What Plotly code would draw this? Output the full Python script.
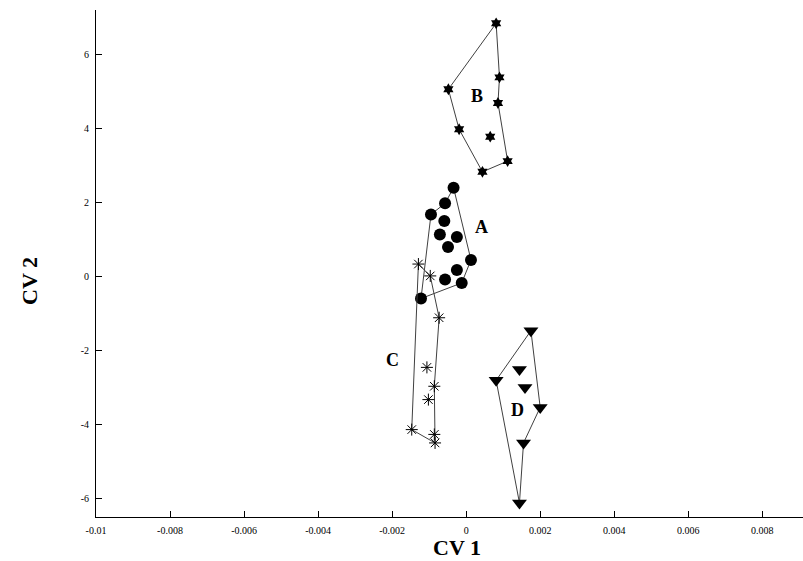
import plotly.graph_objects as go

# ---- data ----
group_names = ["A", "B", "C", "D"]

A_x = [-0.00034, -0.00057, -0.00095, -0.00122, -0.00012, 0.00013, -0.00059, -0.00071, -0.00025, -0.00049, -0.00025, -0.00057]
A_y = [2.40, 1.98, 1.68, -0.59, -0.17, 0.45, 1.50, 1.14, 1.07, 0.80, 0.18, -0.08]
A_hull = [0, 1, 2, 3, 4, 5, 0]

B_x = [0.00081, -0.00048, -0.00019, 0.00044, 0.00112, 0.00086, 0.00090, 0.00065]
B_y = [6.84, 5.06, 3.98, 2.83, 3.12, 4.69, 5.38, 3.78]
B_hull = [0, 1, 2, 3, 4, 5, 6, 0]

C_x = [-0.00129, -0.00097, -0.00073, -0.00084, -0.00147, -0.00106, -0.00086, -0.00102, -0.00086]
C_y = [0.34, 0.02, -1.11, -4.49, -4.13, -2.45, -2.96, -3.32, -4.26]
C_hull = [0, 1, 2, 6, 3, 4, 0]

D_x = [0.00175, 0.00200, 0.00155, 0.00144, 0.00081, 0.00144, 0.00159]
D_y = [-1.46, -3.53, -4.49, -6.11, -2.80, -2.51, -2.99]
D_hull = [0, 1, 2, 3, 4, 0]

label_x = [0.00042, 0.00029, -0.00198, 0.00140]
label_y = [1.33, 4.87, -2.24, -3.61]

x_ticks = [-0.01, -0.008, -0.006, -0.004, -0.002, 0, 0.002, 0.004, 0.006, 0.008]
x_tick_labels = ["-0.01", "-0.008", "-0.006", "-0.004", "-0.002", "0", "0.002", "0.004", "0.006", "0.008"]
y_ticks = [-6, -4, -2, 0, 2, 4, 6]
y_tick_labels = ["-6", "-4", "-2", "0", "2", "4", "6"]

# ---- styles ----
SERIF = "Liberation Serif, Times New Roman, serif"
groups = [
    (A_x, A_y, A_hull, dict(symbol="circle", size=12, color="black")),
    (B_x, B_y, B_hull, dict(symbol="hexagram", size=9, color="black")),
    (C_x, C_y, C_hull, dict(symbol="asterisk-open", size=10, color="black",
                            line=dict(color="black", width=1))),
    (D_x, D_y, D_hull, dict(symbol="triangle-down", size=13, color="black")),
]

fig = go.Figure()
for gx, gy, hull, mk in groups:
    fig.add_trace(go.Scatter(
        x=[gx[i] for i in hull], y=[gy[i] for i in hull],
        mode="lines", line=dict(color="#404040", width=1),
        hoverinfo="skip"))
    fig.add_trace(go.Scatter(x=gx, y=gy, mode="markers", marker=mk))

for name, lx, ly in zip(group_names, label_x, label_y):
    fig.add_annotation(x=lx, y=ly, text="<b>%s</b>" % name, showarrow=False,
                       font=dict(family=SERIF, size=18, color="black"))

fig.add_annotation(xref="paper", yref="paper", x=0.5106, y=-0.061,
                   text="<b>CV 1</b>", showarrow=False, yanchor="middle",
                   font=dict(family=SERIF, size=22, color="black"))
fig.add_annotation(xref="paper", yref="paper", x=-0.0934, y=0.4655,
                   text="<b>CV 2</b>", showarrow=False, textangle=-90,
                   xanchor="center", yanchor="middle",
                   font=dict(family=SERIF, size=22, color="black"))

axis_common = dict(showline=True, linecolor="black", linewidth=1,
                   ticks="inside", ticklen=6, tickcolor="black", tickwidth=1,
                   showgrid=False, zeroline=False,
                   tickfont=dict(family=SERIF, size=10, color="black"))

fig.update_layout(
    width=803, height=561,
    margin=dict(l=96, r=0, t=10, b=44, autoexpand=False),
    paper_bgcolor="white", plot_bgcolor="white",
    showlegend=False,
    xaxis=dict(range=[-0.01, 0.0091], tickmode="array", tickvals=x_ticks,
               ticktext=x_tick_labels, ticklabelstandoff=4, **axis_common),
    yaxis=dict(range=[-6.49, 7.2], tickmode="array", tickvals=y_ticks,
               ticktext=y_tick_labels, ticklabelstandoff=4, **axis_common),
)

# remove the default page margin so the figure fills the window exactly
fig.write_html(
    "out.html",
    config={"displayModeBar": False},
    post_script="document.body.style.margin='0';"
                "document.body.style.overflow='hidden';",
)
